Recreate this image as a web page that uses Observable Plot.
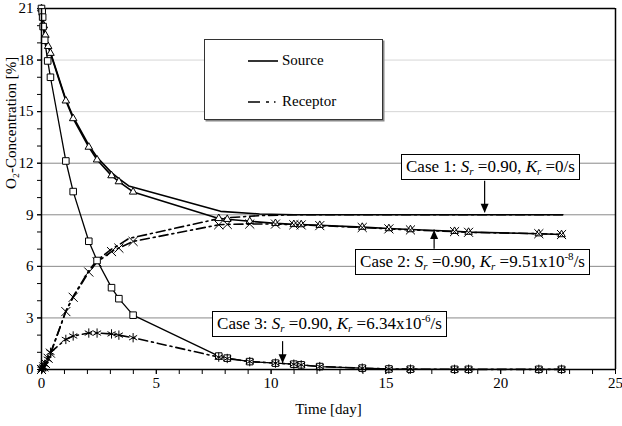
<!DOCTYPE html>
<html>
<head>
<meta charset="utf-8">
<script src="https://cdn.jsdelivr.net/npm/d3@7"></script>
<script src="https://cdn.jsdelivr.net/npm/@observablehq/plot@0.6"></script>
<style>
  body { margin: 0; background: #fff; }
  #chart { position: relative; width: 622px; height: 426px; font-family: "Liberation Serif", "DejaVu Serif", serif; background: #fff; }
  #chart svg { display: block; }
  .box { position: absolute; background: #fff; border: 1px solid #000; font-size: 17px; padding: 2px 4px; white-space: nowrap; line-height: 20px; color: #000; font-family: "Liberation Serif", "DejaVu Serif", serif; }
  .box i { font-style: italic; }
  .box sub { font-size: 11px; font-style: italic; vertical-align: -3px; line-height: 0; }
  .box sup { font-size: 11px; vertical-align: 7px; line-height: 0; }
  #legend { position: absolute; background: #fff; border: 1px solid #333; box-shadow: 1.5px 1.5px 0 #888; font-size: 15px; font-family: "Liberation Serif", "DejaVu Serif", serif; }
  #legend .lab { position: absolute; line-height: 16px; }
</style>
</head>
<body>
<div id="chart"></div>
<script>
// ---------- tick values ----------
const xMajorTicks = [0, 5, 10, 15, 20, 25];
const xMinorTicks = d3.range(0, 26, 1);
const yMajorTicks = [0, 3, 6, 9, 12, 15, 18, 21];
const yMinorTicks = d3.range(0, 22, 1);
const gridValues = [3, 6, 9, 12, 15, 18];

// ---------- Case 1 (no markers) ----------
const days1 = [0, 0.17, 0.29, 0.39, 1.06, 1.38, 2.06, 2.42, 3.05, 3.37, 3.8, 7.8, 9.5, 11, 22.7];
const source1 = [21, 19.45, 18.85, 18.45, 15.7, 14.7, 13.05, 12.35, 11.45, 11.1, 10.68, 9.2, 9.05, 9.0, 9.0];
const receptor1 = [0, 0.3, 0.6, 0.9, 3.4, 4.25, 5.75, 6.35, 7.0, 7.25, 7.62, 8.8, 8.95, 9.0, 9.0];

// ---------- Case 2 (triangles / times) ----------
const days2 = [0, 0.1, 0.17, 0.29, 0.39, 1.06, 1.38, 2.06, 2.42, 3.05, 3.37, 3.99, 7.72, 8.09, 9.07, 10.19, 10.99, 11.31, 12.12, 13.97, 15.13, 16.07, 17.99, 18.6, 21.66, 22.65];
const source2 = [21, 20.0, 19.45, 18.8, 18.4, 15.63, 14.6, 12.94, 12.2, 11.28, 10.93, 10.33, 8.79, 8.74, 8.62, 8.5, 8.44, 8.43, 8.39, 8.28, 8.2, 8.14, 8.04, 7.99, 7.9, 7.85];
const receptor2 = [0, 0.15, 0.35, 0.65, 0.95, 3.37, 4.2, 5.67, 6.25, 6.86, 7.06, 7.45, 8.42, 8.44, 8.46, 8.46, 8.42, 8.41, 8.37, 8.26, 8.18, 8.12, 8.02, 7.98, 7.9, 7.85];

// ---------- Case 3 (squares / asterisks) ----------
const days3 = [0, 0.03, 0.05, 0.07, 0.14, 0.27, 0.39, 1.06, 1.38, 2.06, 2.42, 3.05, 3.37, 3.99, 7.72, 8.09, 9.07, 10.19, 10.99, 11.31, 12.12, 13.97, 15.13, 16.07, 17.99, 18.6, 21.66, 22.65];
const source3 = [21, 20.8, 20.5, 19.95, 19.15, 17.95, 17.0, 12.13, 10.35, 7.46, 6.34, 4.76, 4.12, 3.16, 0.78, 0.66, 0.46, 0.37, 0.31, 0.27, 0.17, 0.08, 0.03, 0.02, 0.01, 0.01, 0.01, 0.01];
const receptor3 = [0, 0.05, 0.1, 0.15, 0.3, 0.6, 1.0, 1.75, 1.95, 2.12, 2.12, 2.07, 2.0, 1.85, 0.72, 0.64, 0.46, 0.37, 0.31, 0.27, 0.17, 0.08, 0.03, 0.02, 0.01, 0.01, 0.01, 0.01];

// ---------- annotations ----------
const annoLabels = [
  'Case 1: <i>S</i><sub>r</sub> =0.90, <i>K</i><sub>r</sub> =0/s',
  'Case 2: <i>S</i><sub>r</sub> =0.90, <i>K</i><sub>r</sub> =9.51x10<sup>-8</sup>/s',
  'Case 3: <i>S</i><sub>r</sub> =0.90, <i>K</i><sub>r</sub> =6.34x10<sup>-6</sup>/s'
];
const annoBoxDay = [15.68, 13.68, 7.45];
const annoBoxTop = [12.49, 7.0, 3.35];
const arrowDay = [19.3, 17.1, 10.5];
const arrowFrom = [10.95, 7.0, 1.62];
const arrowTip = [9.12, 8.12, 0.36];
const arrowDir = ["down", "up", "down"];

const legendLabels = ["Source", "Receptor"];

// ---------- build tables ----------
function rows(days, vals, id) { return days.map((d, i) => ({day: d, value: vals[i], id})); }
const src1 = rows(days1, source1, "s1"), rec1 = rows(days1, receptor1, "r1");
const src2 = rows(days2, source2, "s2"), rec2 = rows(days2, receptor2, "r2");
const src3 = rows(days3, source3, "s3"), rec3 = rows(days3, receptor3, "r3");
const arrows = arrowDay.map((d, i) => ({day: d, from: arrowFrom[i], tip: arrowTip[i], dir: arrowDir[i]}));

const headDown = {draw(ctx) { ctx.moveTo(0, 0); ctx.lineTo(-4, -9); ctx.lineTo(4, -9); ctx.closePath(); }};
const headUp = {draw(ctx) { ctx.moveTo(0, 0); ctx.lineTo(-4, 9); ctx.lineTo(4, 9); ctx.closePath(); }};

const dash = "9,4,2,4";
const curve = "linear";
const serif = "Liberation Serif, DejaVu Serif, serif";

const plot = Plot.plot({
  width: 622,
  height: 426,
  marginLeft: 41,
  marginRight: 7,
  marginTop: 8,
  marginBottom: 57,
  x: {domain: [0, 25]},
  y: {domain: [0, 21]},
  style: {fontFamily: serif, fontSize: "15px", background: "white", color: "black"},
  marks: [
    Plot.ruleY(gridValues, {stroke: d => d >= 15 ? "#d6d6d6" : "#8a8a8a", strokeWidth: 1}),
    Plot.ruleY([21], {stroke: "black", strokeWidth: 1.5}),
    Plot.ruleX([25], {stroke: "black", strokeWidth: 1.5}),
    Plot.axisY({ticks: yMinorTicks, tickSize: 4, tickFormat: () => "", label: null, strokeWidth: 1}),
    Plot.axisY({ticks: yMajorTicks, tickSize: 4, tickPadding: 4, label: null, fontSize: 15}),
    Plot.axisX({ticks: xMinorTicks, tickSize: 5, tickFormat: () => "", label: null}),
    Plot.axisX({ticks: xMajorTicks, tickSize: 5, tickPadding: 3, label: null, fontSize: 15}),
    Plot.text(["O₂-Concentration [%]"], {frameAnchor: "left", rotate: -90, dx: -30, fontSize: 15}),
    Plot.text(["Time [day]"], {frameAnchor: "bottom", dy: 44, fontSize: 15}),
    // lines
    Plot.line(src1, {x: "day", y: "value", stroke: "black", strokeWidth: 1.6, curve}),
    Plot.line(rec1, {x: "day", y: "value", stroke: "black", strokeWidth: 1.6, strokeDasharray: dash, curve}),
    Plot.line(src2, {x: "day", y: "value", stroke: "black", strokeWidth: 1.6, curve}),
    Plot.line(rec2, {x: "day", y: "value", stroke: "black", strokeWidth: 1.6, strokeDasharray: dash, curve}),
    Plot.line(src3, {x: "day", y: "value", stroke: "black", strokeWidth: 1.3, curve}),
    Plot.line(rec3, {x: "day", y: "value", stroke: "black", strokeWidth: 1.6, strokeDasharray: dash, curve}),
    // markers
    Plot.dot(src2, {x: "day", y: "value", symbol: "triangle", r: 2.8, fill: "white", stroke: "black", strokeWidth: 1}),
    Plot.dot(rec2, {x: "day", y: "value", symbol: "times", r: 4.2, stroke: "black", strokeWidth: 1}),
    Plot.dot(src3, {x: "day", y: "value", symbol: "square", r: 3.7, fill: "white", stroke: "black", strokeWidth: 1}),
    Plot.dot(rec3, {x: "day", y: "value", symbol: "asterisk", r: 4.4, stroke: "black", strokeWidth: 1}),
    // axis lines
    Plot.ruleX([0], {stroke: "black", strokeWidth: 1.5}),
    Plot.ruleY([0], {stroke: "black", strokeWidth: 1.5}),
    // annotation arrows
    Plot.ruleX(arrows, {x: "day", y1: "from", y2: "tip", stroke: "black", strokeWidth: 1.2}),
    Plot.dot(arrows.filter(d => d.dir === "down"), {x: "day", y: "tip", symbol: headDown, fill: "black", stroke: "none"}),
    Plot.dot(arrows.filter(d => d.dir === "up"), {x: "day", y: "tip", symbol: headUp, fill: "black", stroke: "none"})
  ]
});

const chart = document.getElementById("chart");
chart.appendChild(plot);
const xs = plot.scale("x"), ys = plot.scale("y");

// annotation boxes
annoLabels.forEach((html, i) => {
  const div = document.createElement("div");
  div.className = "box";
  div.innerHTML = html;
  div.style.left = xs.apply(annoBoxDay[i]) + "px";
  div.style.top = ys.apply(annoBoxTop[i]) + "px";
  chart.appendChild(div);
});

// legend box
const lg = document.createElement("div");
lg.id = "legend";
lg.style.left = "204px"; lg.style.top = "39px"; lg.style.width = "177px"; lg.style.height = "79px";
const svgNS = "http://www.w3.org/2000/svg";
const lsvg = document.createElementNS(svgNS, "svg");
lsvg.setAttribute("width", "177"); lsvg.setAttribute("height", "79");
lsvg.style.position = "absolute"; lsvg.style.left = "0"; lsvg.style.top = "0";
[[21, null], [62, "12,6,3,5,1.5,10"]].forEach(([y, da]) => {
  const l = document.createElementNS(svgNS, "line");
  l.setAttribute("x1", 43); l.setAttribute("x2", 73);
  l.setAttribute("y1", y); l.setAttribute("y2", y);
  l.setAttribute("stroke", "black"); l.setAttribute("stroke-width", "1.6");
  if (da) l.setAttribute("stroke-dasharray", da);
  lsvg.appendChild(l);
});
lg.appendChild(lsvg);
legendLabels.forEach((t, i) => {
  const s = document.createElement("div");
  s.className = "lab";
  s.textContent = t;
  s.style.left = "77px";
  s.style.top = (i === 0 ? 12 : 53) + "px";
  lg.appendChild(s);
});
chart.appendChild(lg);
</script>
</body>
</html>
